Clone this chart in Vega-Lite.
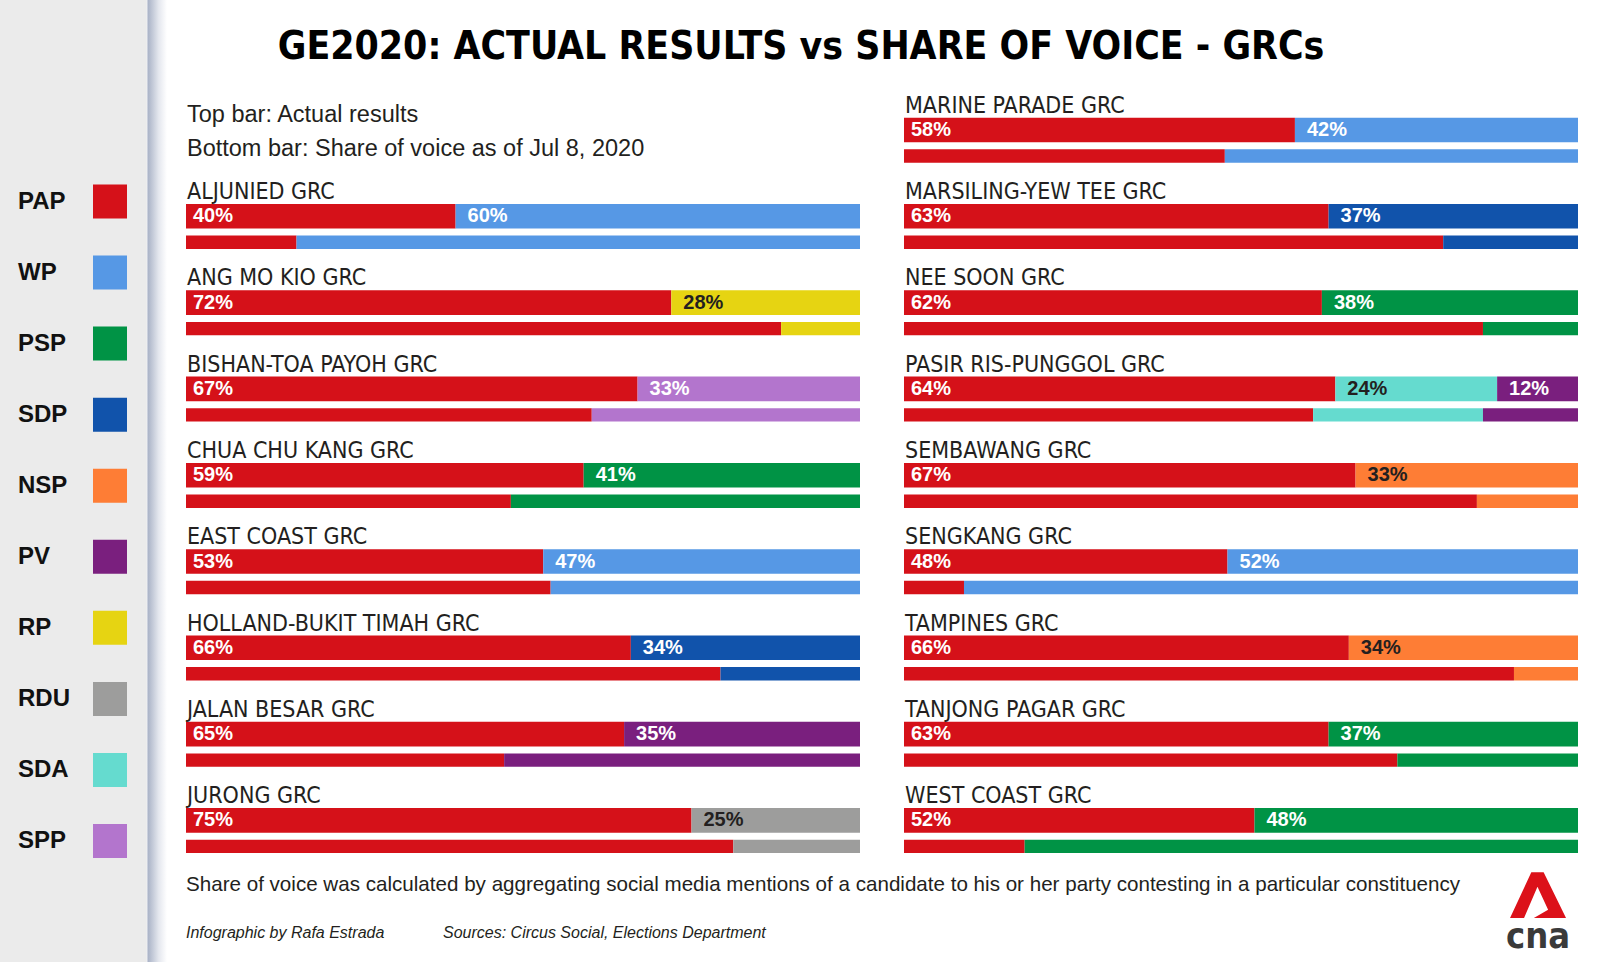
{
  "$schema": "https://vega.github.io/schema/vega-lite/v6.json",
  "padding": 0,
  "background": "#ffffff",
  "autosize": {"type": "pad"},
  "config": {"view": {"stroke": null}},
  "datasets": {
    "parties": [
      {"party": "PAP"}, {"party": "WP"}, {"party": "PSP"}, {"party": "SDP"}, {"party": "NSP"},
      {"party": "PV"}, {"party": "RP"}, {"party": "RDU"}, {"party": "SDA"}, {"party": "SPP"}
    ],
    "L": [
      {"grc": "ALJUNIED GRC", "party": "PAP", "type": "actual", "v": 0.40, "o": 1},
      {"grc": "ALJUNIED GRC", "party": "WP", "type": "actual", "v": 0.60, "o": 2},
      {"grc": "ALJUNIED GRC", "party": "PAP", "type": "share", "v": 0.164, "o": 1},
      {"grc": "ALJUNIED GRC", "party": "WP", "type": "share", "v": 0.836, "o": 2},
      {"grc": "ANG MO KIO GRC", "party": "PAP", "type": "actual", "v": 0.72, "o": 1},
      {"grc": "ANG MO KIO GRC", "party": "RP", "type": "actual", "v": 0.28, "o": 2},
      {"grc": "ANG MO KIO GRC", "party": "PAP", "type": "share", "v": 0.883, "o": 1},
      {"grc": "ANG MO KIO GRC", "party": "RP", "type": "share", "v": 0.117, "o": 2},
      {"grc": "BISHAN-TOA PAYOH GRC", "party": "PAP", "type": "actual", "v": 0.67, "o": 1},
      {"grc": "BISHAN-TOA PAYOH GRC", "party": "SPP", "type": "actual", "v": 0.33, "o": 2},
      {"grc": "BISHAN-TOA PAYOH GRC", "party": "PAP", "type": "share", "v": 0.602, "o": 1},
      {"grc": "BISHAN-TOA PAYOH GRC", "party": "SPP", "type": "share", "v": 0.398, "o": 2},
      {"grc": "CHUA CHU KANG GRC", "party": "PAP", "type": "actual", "v": 0.59, "o": 1},
      {"grc": "CHUA CHU KANG GRC", "party": "PSP", "type": "actual", "v": 0.41, "o": 2},
      {"grc": "CHUA CHU KANG GRC", "party": "PAP", "type": "share", "v": 0.482, "o": 1},
      {"grc": "CHUA CHU KANG GRC", "party": "PSP", "type": "share", "v": 0.518, "o": 2},
      {"grc": "EAST COAST GRC", "party": "PAP", "type": "actual", "v": 0.53, "o": 1},
      {"grc": "EAST COAST GRC", "party": "WP", "type": "actual", "v": 0.47, "o": 2},
      {"grc": "EAST COAST GRC", "party": "PAP", "type": "share", "v": 0.541, "o": 1},
      {"grc": "EAST COAST GRC", "party": "WP", "type": "share", "v": 0.459, "o": 2},
      {"grc": "HOLLAND-BUKIT TIMAH GRC", "party": "PAP", "type": "actual", "v": 0.66, "o": 1},
      {"grc": "HOLLAND-BUKIT TIMAH GRC", "party": "SDP", "type": "actual", "v": 0.34, "o": 2},
      {"grc": "HOLLAND-BUKIT TIMAH GRC", "party": "PAP", "type": "share", "v": 0.793, "o": 1},
      {"grc": "HOLLAND-BUKIT TIMAH GRC", "party": "SDP", "type": "share", "v": 0.207, "o": 2},
      {"grc": "JALAN BESAR GRC", "party": "PAP", "type": "actual", "v": 0.65, "o": 1},
      {"grc": "JALAN BESAR GRC", "party": "PV", "type": "actual", "v": 0.35, "o": 2},
      {"grc": "JALAN BESAR GRC", "party": "PAP", "type": "share", "v": 0.472, "o": 1},
      {"grc": "JALAN BESAR GRC", "party": "PV", "type": "share", "v": 0.528, "o": 2},
      {"grc": "JURONG GRC", "party": "PAP", "type": "actual", "v": 0.75, "o": 1},
      {"grc": "JURONG GRC", "party": "RDU", "type": "actual", "v": 0.25, "o": 2},
      {"grc": "JURONG GRC", "party": "PAP", "type": "share", "v": 0.812, "o": 1},
      {"grc": "JURONG GRC", "party": "RDU", "type": "share", "v": 0.188, "o": 2}
    ],
    "R": [
      {"grc": "MARINE PARADE GRC", "party": "PAP", "type": "actual", "v": 0.58, "o": 1},
      {"grc": "MARINE PARADE GRC", "party": "WP", "type": "actual", "v": 0.42, "o": 2},
      {"grc": "MARINE PARADE GRC", "party": "PAP", "type": "share", "v": 0.476, "o": 1},
      {"grc": "MARINE PARADE GRC", "party": "WP", "type": "share", "v": 0.524, "o": 2},
      {"grc": "MARSILING-YEW TEE GRC", "party": "PAP", "type": "actual", "v": 0.63, "o": 1},
      {"grc": "MARSILING-YEW TEE GRC", "party": "SDP", "type": "actual", "v": 0.37, "o": 2},
      {"grc": "MARSILING-YEW TEE GRC", "party": "PAP", "type": "share", "v": 0.80, "o": 1},
      {"grc": "MARSILING-YEW TEE GRC", "party": "SDP", "type": "share", "v": 0.20, "o": 2},
      {"grc": "NEE SOON GRC", "party": "PAP", "type": "actual", "v": 0.62, "o": 1},
      {"grc": "NEE SOON GRC", "party": "PSP", "type": "actual", "v": 0.38, "o": 2},
      {"grc": "NEE SOON GRC", "party": "PAP", "type": "share", "v": 0.859, "o": 1},
      {"grc": "NEE SOON GRC", "party": "PSP", "type": "share", "v": 0.141, "o": 2},
      {"grc": "PASIR RIS-PUNGGOL GRC", "party": "PAP", "type": "actual", "v": 0.64, "o": 1},
      {"grc": "PASIR RIS-PUNGGOL GRC", "party": "SDA", "type": "actual", "v": 0.24, "o": 2},
      {"grc": "PASIR RIS-PUNGGOL GRC", "party": "PV", "type": "actual", "v": 0.12, "o": 3},
      {"grc": "PASIR RIS-PUNGGOL GRC", "party": "PAP", "type": "share", "v": 0.607, "o": 1},
      {"grc": "PASIR RIS-PUNGGOL GRC", "party": "SDA", "type": "share", "v": 0.252, "o": 2},
      {"grc": "PASIR RIS-PUNGGOL GRC", "party": "PV", "type": "share", "v": 0.141, "o": 3},
      {"grc": "SEMBAWANG GRC", "party": "PAP", "type": "actual", "v": 0.67, "o": 1},
      {"grc": "SEMBAWANG GRC", "party": "NSP", "type": "actual", "v": 0.33, "o": 2},
      {"grc": "SEMBAWANG GRC", "party": "PAP", "type": "share", "v": 0.85, "o": 1},
      {"grc": "SEMBAWANG GRC", "party": "NSP", "type": "share", "v": 0.15, "o": 2},
      {"grc": "SENGKANG GRC", "party": "PAP", "type": "actual", "v": 0.48, "o": 1},
      {"grc": "SENGKANG GRC", "party": "WP", "type": "actual", "v": 0.52, "o": 2},
      {"grc": "SENGKANG GRC", "party": "PAP", "type": "share", "v": 0.089, "o": 1},
      {"grc": "SENGKANG GRC", "party": "WP", "type": "share", "v": 0.911, "o": 2},
      {"grc": "TAMPINES GRC", "party": "PAP", "type": "actual", "v": 0.66, "o": 1},
      {"grc": "TAMPINES GRC", "party": "NSP", "type": "actual", "v": 0.34, "o": 2},
      {"grc": "TAMPINES GRC", "party": "PAP", "type": "share", "v": 0.905, "o": 1},
      {"grc": "TAMPINES GRC", "party": "NSP", "type": "share", "v": 0.095, "o": 2},
      {"grc": "TANJONG PAGAR GRC", "party": "PAP", "type": "actual", "v": 0.63, "o": 1},
      {"grc": "TANJONG PAGAR GRC", "party": "PSP", "type": "actual", "v": 0.37, "o": 2},
      {"grc": "TANJONG PAGAR GRC", "party": "PAP", "type": "share", "v": 0.732, "o": 1},
      {"grc": "TANJONG PAGAR GRC", "party": "PSP", "type": "share", "v": 0.268, "o": 2},
      {"grc": "WEST COAST GRC", "party": "PAP", "type": "actual", "v": 0.52, "o": 1},
      {"grc": "WEST COAST GRC", "party": "PSP", "type": "actual", "v": 0.48, "o": 2},
      {"grc": "WEST COAST GRC", "party": "PAP", "type": "share", "v": 0.179, "o": 1},
      {"grc": "WEST COAST GRC", "party": "PSP", "type": "share", "v": 0.821, "o": 2}
    ]
  },
  "spacing": 19,
  "bounds": "flush",
  "hconcat": [
    {
      "width": 167,
      "height": 962,
      "layer": [
        {
          "data": {"values": [{"bg": 1}]},
          "mark": {"type": "rect", "color": {"gradient": "linear", "x1": 0, "x2": 1, "y1": 0, "y2": 0,
            "stops": [
              {"offset": 0, "color": "#ebebeb"},
              {"offset": 0.876, "color": "#ebebeb"},
              {"offset": 0.88, "color": "#f2f3f6"},
              {"offset": 0.886, "color": "#aab3c7"},
              {"offset": 0.95, "color": "#e4e7ee"},
              {"offset": 1, "color": "#ffffff"}
            ]}},
          "encoding": {}
        },
        {
          "data": {"name": "parties"},
          "mark": {"type": "square", "size": 1156, "opacity": 1, "filled": true},
          "encoding": {
            "x": {"datum": "swatch", "type": "nominal", "scale": {"type": "point", "domain": ["label", "swatch"], "range": [18, 110], "padding": 0}, "axis": null},
            "y": {"field": "party", "type": "nominal", "sort": null, "scale": {"type": "point", "domain": ["PAP", "WP", "PSP", "SDP", "NSP", "PV", "RP", "RDU", "SDA", "SPP"], "range": [201.5, 841], "padding": 0}, "axis": null},
            "color": {"field": "party", "type": "nominal", "scale": {"domain": ["PAP", "WP", "PSP", "SDP", "NSP", "PV", "RP", "RDU", "SDA", "SPP"], "range": ["#d51119", "#5698e5", "#009345", "#1153ab", "#fe7d35", "#7a1f7e", "#e6d412", "#9d9d9c", "#65dbcf", "#b375cd"]}, "legend": null}
          }
        },
        {
          "data": {"name": "parties"},
          "mark": {"type": "text", "align": "left", "baseline": "middle", "font": "Liberation Sans, Arial, sans-serif", "fontWeight": "bold", "fontSize": 24, "color": "#111111"},
          "encoding": {
            "x": {"datum": "label", "type": "nominal"},
            "y": {"field": "party", "type": "nominal", "sort": null},
            "text": {"field": "party"}
          }
        }
      ]
    },
    {
      "spacing": 44,
      "bounds": "flush",
      "hconcat": [
        {
          "width": 674,
          "height": 962,
          "encoding": {
            "y": {"field": "grc", "type": "nominal", "sort": null, "axis": null,
              "scale": {"domain": ["TITLE", "NOTE", "ALJUNIED GRC", "ANG MO KIO GRC", "BISHAN-TOA PAYOH GRC", "CHUA CHU KANG GRC", "EAST COAST GRC", "HOLLAND-BUKIT TIMAH GRC", "JALAN BESAR GRC", "JURONG GRC", "FOOTER"], "range": [5, 954.3], "paddingInner": 0, "paddingOuter": 0}}
          },
          "layer": [
            {
              "data": {"name": "L"},
              "transform": [
                {"stack": "v", "groupby": ["grc", "type"], "sort": [{"field": "o", "order": "ascending"}], "as": ["x0", "x1"]},
                {"filter": "datum.type === 'actual'"}
              ],
              "mark": {"type": "bar", "height": 24.6, "yOffset": -4.45},
              "encoding": {
                "x": {"field": "x0", "type": "quantitative", "scale": {"domain": [0, 1], "nice": false}, "axis": null},
                "x2": {"field": "x1"},
                "color": {"field": "party", "type": "nominal", "legend": null}
              }
            },
            {
              "data": {"name": "L"},
              "transform": [
                {"stack": "v", "groupby": ["grc", "type"], "sort": [{"field": "o", "order": "ascending"}], "as": ["x0", "x1"]},
                {"filter": "datum.type === 'share'"}
              ],
              "mark": {"type": "bar", "height": 13.4, "yOffset": 21.55},
              "encoding": {
                "x": {"field": "x0", "type": "quantitative"},
                "x2": {"field": "x1"},
                "color": {"field": "party", "type": "nominal", "legend": null}
              }
            },
            {
              "data": {"name": "L"},
              "transform": [
                {"stack": "v", "groupby": ["grc", "type"], "sort": [{"field": "o", "order": "ascending"}], "as": ["x0", "x1"]},
                {"filter": "datum.type === 'actual' && datum.o === 1"}
              ],
              "mark": {"type": "text", "align": "left", "baseline": "middle", "dx": 7, "yOffset": -4.45, "font": "Liberation Sans, Arial, sans-serif", "fontWeight": "bold", "fontSize": 20},
              "encoding": {
                "x": {"field": "x0", "type": "quantitative"},
                "text": {"field": "v", "type": "quantitative", "format": ".0%"},
                "color": {"condition": {"test": "indexof(['RP','RDU','SDA','NSP'], datum.party) >= 0", "value": "#231f20"}, "value": "#ffffff"}
              }
            },
            {
              "data": {"name": "L"},
              "transform": [
                {"stack": "v", "groupby": ["grc", "type"], "sort": [{"field": "o", "order": "ascending"}], "as": ["x0", "x1"]},
                {"filter": "datum.type === 'actual' && datum.o > 1"}
              ],
              "mark": {"type": "text", "align": "left", "baseline": "middle", "dx": 12, "yOffset": -4.45, "font": "Liberation Sans, Arial, sans-serif", "fontWeight": "bold", "fontSize": 20},
              "encoding": {
                "x": {"field": "x0", "type": "quantitative"},
                "text": {"field": "v", "type": "quantitative", "format": ".0%"},
                "color": {"condition": {"test": "indexof(['RP','RDU','SDA','NSP'], datum.party) >= 0", "value": "#231f20"}, "value": "#ffffff"}
              }
            },
            {
              "data": {"name": "L"},
              "transform": [{"filter": "datum.type === 'actual' && datum.o === 1"}],
              "mark": {"type": "text", "align": "left", "baseline": "alphabetic", "dx": 1, "dy": -21.65, "font": "DejaVu Sans Condensed, sans-serif", "fontSize": 23, "color": "#231f20"},
              "encoding": {
                "x": {"datum": 0, "type": "quantitative"},
                "text": {"field": "grc"}
              }
            },
            {
              "data": {"values": [{"grc": "TITLE", "text": "GE2020: ACTUAL RESULTS vs SHARE OF VOICE - GRCs"}]},
              "mark": {"type": "text", "align": "center", "baseline": "alphabetic", "dy": 10.5, "font": "DejaVu Sans Condensed, sans-serif", "fontWeight": "bold", "fontSize": 38.8, "color": "#000000"},
              "encoding": {
                "x": {"datum": 0.9125, "type": "quantitative"},
                "text": {"field": "text"}
              }
            },
            {
              "data": {"values": [{"grc": "NOTE", "text": "Top bar: Actual results\nBottom bar: Share of voice as of Jul 8, 2020"}]},
              "mark": {"type": "text", "align": "left", "baseline": "alphabetic", "dx": 1, "dy": -12, "lineBreak": "\n", "lineHeight": 33.5, "font": "Liberation Sans, Arial, sans-serif", "fontSize": 23.5, "color": "#231f20"},
              "encoding": {
                "x": {"datum": 0, "type": "quantitative"},
                "text": {"field": "text"}
              }
            },
            {
              "data": {"values": [{"grc": "FOOTER", "text": "Share of voice was calculated by aggregating social media mentions of a candidate to his or her party contesting in a particular constituency"}]},
              "mark": {"type": "text", "align": "left", "baseline": "alphabetic", "dy": -20, "font": "Liberation Sans, Arial, sans-serif", "fontSize": 20.6, "color": "#231f20"},
              "encoding": {
                "x": {"datum": 0, "type": "quantitative"},
                "text": {"field": "text"}
              }
            },
            {
              "data": {"values": [{"grc": "FOOTER", "text": "Infographic by Rafa Estrada"}]},
              "mark": {"type": "text", "align": "left", "baseline": "alphabetic", "dy": 26.5, "font": "Liberation Sans, Arial, sans-serif", "fontStyle": "italic", "fontSize": 16, "color": "#231f20"},
              "encoding": {
                "x": {"datum": 0, "type": "quantitative"},
                "text": {"field": "text"}
              }
            },
            {
              "data": {"values": [{"grc": "FOOTER", "text": "Sources: Circus Social, Elections Department"}]},
              "mark": {"type": "text", "align": "left", "baseline": "alphabetic", "dy": 26.5, "font": "Liberation Sans, Arial, sans-serif", "fontStyle": "italic", "fontSize": 16, "color": "#231f20"},
              "encoding": {
                "x": {"datum": 0.3813, "type": "quantitative"},
                "text": {"field": "text"}
              }
            }
          ]
        },
        {
          "width": 674,
          "height": 962,
          "encoding": {
            "y": {"field": "grc", "type": "nominal", "sort": null, "axis": null,
              "scale": {"domain": ["BLANK", "MARINE PARADE GRC", "MARSILING-YEW TEE GRC", "NEE SOON GRC", "PASIR RIS-PUNGGOL GRC", "SEMBAWANG GRC", "SENGKANG GRC", "TAMPINES GRC", "TANJONG PAGAR GRC", "WEST COAST GRC", "LOGO"], "range": [5, 954.3], "paddingInner": 0, "paddingOuter": 0}}
          },
          "layer": [
            {
              "data": {"name": "R"},
              "transform": [
                {"stack": "v", "groupby": ["grc", "type"], "sort": [{"field": "o", "order": "ascending"}], "as": ["x0", "x1"]},
                {"filter": "datum.type === 'actual'"}
              ],
              "mark": {"type": "bar", "height": 24.6, "yOffset": -4.45},
              "encoding": {
                "x": {"field": "x0", "type": "quantitative", "scale": {"domain": [0, 1], "nice": false}, "axis": null},
                "x2": {"field": "x1"},
                "color": {"field": "party", "type": "nominal", "legend": null}
              }
            },
            {
              "data": {"name": "R"},
              "transform": [
                {"stack": "v", "groupby": ["grc", "type"], "sort": [{"field": "o", "order": "ascending"}], "as": ["x0", "x1"]},
                {"filter": "datum.type === 'share'"}
              ],
              "mark": {"type": "bar", "height": 13.4, "yOffset": 21.55},
              "encoding": {
                "x": {"field": "x0", "type": "quantitative"},
                "x2": {"field": "x1"},
                "color": {"field": "party", "type": "nominal", "legend": null}
              }
            },
            {
              "data": {"name": "R"},
              "transform": [
                {"stack": "v", "groupby": ["grc", "type"], "sort": [{"field": "o", "order": "ascending"}], "as": ["x0", "x1"]},
                {"filter": "datum.type === 'actual' && datum.o === 1"}
              ],
              "mark": {"type": "text", "align": "left", "baseline": "middle", "dx": 7, "yOffset": -4.45, "font": "Liberation Sans, Arial, sans-serif", "fontWeight": "bold", "fontSize": 20},
              "encoding": {
                "x": {"field": "x0", "type": "quantitative"},
                "text": {"field": "v", "type": "quantitative", "format": ".0%"},
                "color": {"condition": {"test": "indexof(['RP','RDU','SDA','NSP'], datum.party) >= 0", "value": "#231f20"}, "value": "#ffffff"}
              }
            },
            {
              "data": {"name": "R"},
              "transform": [
                {"stack": "v", "groupby": ["grc", "type"], "sort": [{"field": "o", "order": "ascending"}], "as": ["x0", "x1"]},
                {"filter": "datum.type === 'actual' && datum.o > 1"}
              ],
              "mark": {"type": "text", "align": "left", "baseline": "middle", "dx": 12, "yOffset": -4.45, "font": "Liberation Sans, Arial, sans-serif", "fontWeight": "bold", "fontSize": 20},
              "encoding": {
                "x": {"field": "x0", "type": "quantitative"},
                "text": {"field": "v", "type": "quantitative", "format": ".0%"},
                "color": {"condition": {"test": "indexof(['RP','RDU','SDA','NSP'], datum.party) >= 0", "value": "#231f20"}, "value": "#ffffff"}
              }
            },
            {
              "data": {"name": "R"},
              "transform": [{"filter": "datum.type === 'actual' && datum.o === 1"}],
              "mark": {"type": "text", "align": "left", "baseline": "alphabetic", "dx": 1, "dy": -21.65, "font": "DejaVu Sans Condensed, sans-serif", "fontSize": 23, "color": "#231f20"},
              "encoding": {
                "x": {"datum": 0, "type": "quantitative"},
                "text": {"field": "grc"}
              }
            },
            {
              "data": {"values": [{"grc": "LOGO"}]},
              "mark": {"type": "point", "shape": "M-1,0.82 L-0.24,-0.82 L0.2,-0.82 L1,0.82 L-0.15,0.82 L0.36,0.52 L-0.02,-0.3 L-0.5,0.82 Z", "size": 3136, "filled": true, "opacity": 1, "strokeWidth": 0, "color": "#dc1119", "yOffset": -16},
              "encoding": {
                "x": {"datum": 0.9407, "type": "quantitative"}
              }
            },
            {
              "data": {"values": [{"grc": "LOGO", "text": "cna"}]},
              "mark": {"type": "text", "align": "center", "baseline": "alphabetic", "dy": 37, "font": "DejaVu Sans Condensed, sans-serif", "fontWeight": "bold", "fontSize": 36, "color": "#3a3a3a"},
              "encoding": {
                "x": {"datum": 0.9407, "type": "quantitative"},
                "text": {"field": "text"}
              }
            }
          ]
        }
      ]
    }
  ]
}
